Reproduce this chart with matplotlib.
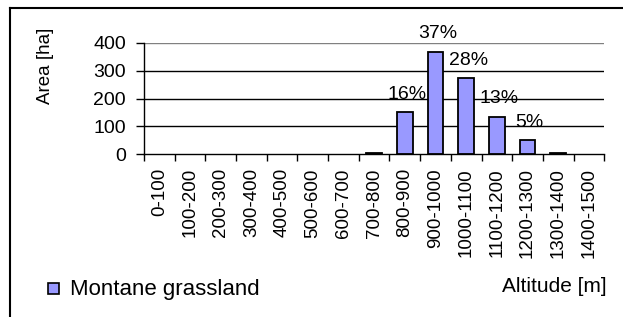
import matplotlib
matplotlib.use("Agg")
import matplotlib.pyplot as plt
from matplotlib.lines import Line2D
import numpy as np

plt.rcParams['font.family'] = ['Liberation Sans', 'DejaVu Sans']

categories = ["0-100", "100-200", "200-300", "300-400", "400-500", "500-600",
              "600-700", "700-800", "800-900", "900-1000", "1000-1100",
              "1100-1200", "1200-1300", "1300-1400", "1400-1500"]
area_ha = [0, 0, 0, 0, 0, 0, 0, 5, 152, 368, 272, 135, 51, 5, 0]
pct_labels = ["", "", "", "", "", "", "", "", "16%", "37%", "28%", "13%", "5%", "", ""]
y_ticks = [0, 100, 200, 300, 400]
series_name = "Montane grassland"

W, H = 623, 317
fig = plt.figure(figsize=(W / 100, H / 100), dpi=100)
ax = fig.add_axes([144 / W, (H - 154.3) / H, 460.3 / W, 111.6 / H])

x = np.arange(len(categories))
vals = np.array(area_ha, dtype=float)
nz = vals > 0
ax.bar(x[nz], vals[nz], width=0.51, color="#9999FF", edgecolor="black",
       linewidth=1.3, zorder=3, label=series_name)

for xi, v, lab in zip(x, area_ha, pct_labels):
    if lab:
        ax.annotate(lab, (xi, v), xytext=(1.5, 9.5), textcoords="offset points",
                    ha="center", va="baseline", fontsize=14, color="black")

ax.set_xlim(-0.5, len(categories) - 0.5)
ax.set_ylim(0, 400)
for yv in y_ticks[1:]:
    ax.axhline(yv, color="#808080" if yv == y_ticks[-1] else "black",
               linewidth=1.0, zorder=1)

ax.set_yticks(y_ticks)
ax.set_yticklabels([str(v) for v in y_ticks], fontsize=14)
ax.tick_params(axis="y", direction="out", length=6, width=1, pad=7, colors="black")

ax.set_xticks(x)
ax.set_xticklabels(categories, rotation=90, fontsize=13.5, va="top", ha="center")
ax.set_xticks(np.arange(-0.5, len(categories), 1.0), minor=True)
ax.tick_params(axis="x", which="major", length=0, pad=10)
ax.tick_params(axis="x", which="minor", direction="out", length=5, width=1)

for s in ["top", "right"]:
    ax.spines[s].set_visible(False)
for s in ["left", "bottom"]:
    ax.spines[s].set_color("black")
    ax.spines[s].set_linewidth(1.0)
ax.set_facecolor("none")

fig.text(45 / W, 1 - 65.5 / H, "Area [ha]", rotation=90, fontsize=13.5,
         ha="center", va="center")
fig.text(607 / W, 1 - 286 / H, "Altitude [m]", fontsize=15, ha="right", va="center")

# legend
fig.patches.append(plt.Rectangle((48 / W, 1 - 294 / H), 11 / W, 11 / H,
                                 transform=fig.transFigure, facecolor="#9999FF",
                                 edgecolor="black", linewidth=1.2))
fig.text(70 / W, 1 - 289 / H, series_name, fontsize=16, ha="left", va="center")

# chart area frame
fig.add_artist(Line2D([10 / W, 10 / W], [0, 1 - 7.5 / H], transform=fig.transFigure,
                      color="black", linewidth=1.5))
fig.add_artist(Line2D([10 / W, 1], [1 - 7.5 / H, 1 - 7.5 / H], transform=fig.transFigure,
                      color="black", linewidth=1.5))

fig.savefig("out.png", dpi=100)
